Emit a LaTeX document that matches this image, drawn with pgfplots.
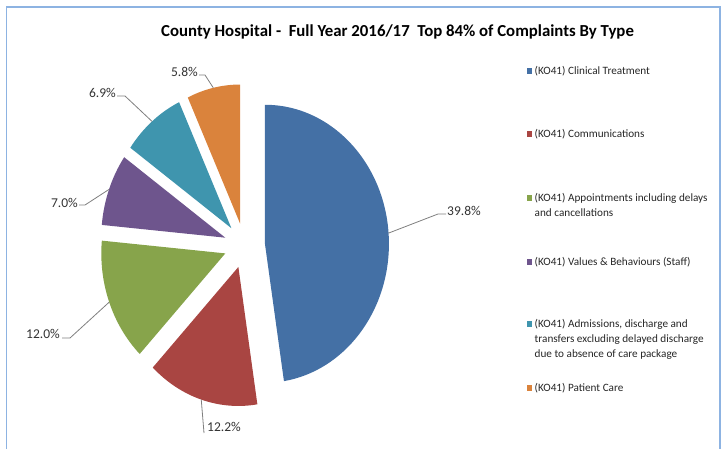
\documentclass[border=0pt]{standalone}
\usepackage{pgfplots}
\pgfplotsset{compat=1.18}
\usepackage{pgfplotstable}
\usepackage{fontspec}
\setmainfont{Carlito}

\definecolor{cBlue}{HTML}{4470A5}
\definecolor{cRed}{HTML}{A94542}
\definecolor{cGreen}{HTML}{87A44B}
\definecolor{cPurple}{HTML}{6E558D}
\definecolor{cTeal}{HTML}{3F95AE}
\definecolor{cOrange}{HTML}{DA833C}
\definecolor{cFrame}{HTML}{8DB3E2}
\definecolor{cLead}{HTML}{7F7F7F}

\pgfplotstableread{
type value
Clinical 39.8
Communications 12.2
Appointments 12.0
Values 7.0
Admissions 6.9
PatientCare 5.8
}\piedata

\pgfplotstablegetelem{0}{value}\of\piedata\let\vA\pgfplotsretval
\pgfplotstablegetelem{1}{value}\of\piedata\let\vB\pgfplotsretval
\pgfplotstablegetelem{2}{value}\of\piedata\let\vC\pgfplotsretval
\pgfplotstablegetelem{3}{value}\of\piedata\let\vD\pgfplotsretval
\pgfplotstablegetelem{4}{value}\of\piedata\let\vE\pgfplotsretval
\pgfplotstablegetelem{5}{value}\of\piedata\let\vF\pgfplotsretval
\pgfmathsetmacro\tot{\vA+\vB+\vC+\vD+\vE+\vF}
\pgfmathsetmacro\aA{90}
\pgfmathsetmacro\aB{\aA-360*\vA/\tot}
\pgfmathsetmacro\aC{\aB-360*\vB/\tot}
\pgfmathsetmacro\aD{\aC-360*\vC/\tot}
\pgfmathsetmacro\aE{\aD-360*\vD/\tot}
\pgfmathsetmacro\aF{\aE-360*\vE/\tot}
\pgfmathsetmacro\aG{\aF-360*\vF/\tot}
\pgfmathsetmacro\mA{(\aA+\aB)/2}
\pgfmathsetmacro\mB{(\aB+\aC)/2}
\pgfmathsetmacro\mC{(\aC+\aD)/2}
\pgfmathsetmacro\mD{(\aD+\aE)/2}
\pgfmathsetmacro\mE{(\aE+\aF)/2}
\pgfmathsetmacro\mF{(\aF+\aG)/2}

% geometry in pixels
\def\cx{244.5}\def\cy{245.5}
\def\exx{20.5}\def\exy{22.5}
\def\rx{124}\def\ry{139}

\newcommand\pieWedge[3]{%
  \fill[#3] (axis cs:{\cx+\exx*cos((#1+#2)/2)+\rx*cos(#1)},{\cy-\exy*sin((#1+#2)/2)-\ry*sin(#1)})
     arc[start angle=#1, end angle=#2, x radius=\rx pt, y radius=\ry pt]
     -- (axis cs:{\cx+\exx*cos((#1+#2)/2)},{\cy-\exy*sin((#1+#2)/2)}) -- cycle;}
\newcommand\leader[3]{%
  \draw[cLead, line width=0.8pt] (axis cs:{\cx+(\exx+\rx)*cos(#1)},{\cy-(\exy+\ry)*sin(#1)})
     -- (axis cs:#2) -- (axis cs:#3);}
% legend key: color, baseline y
\newcommand\legkey[2]{%
  \fill[#1] (axis cs:526.8,{#2-6.3}) rectangle (axis cs:532.3,{#2-0.7});}
\newcommand\legline[2]{%
  \node[anchor=base west, inner sep=0pt, font=\fontsize{11.2}{15}\selectfont, text=black!85] at (axis cs:534.5,#1) {#2};}

\begin{document}
\begin{tikzpicture}
\begin{axis}[
  x=1pt, y=1pt, xmin=0, xmax=723, ymin=0, ymax=449, y dir=reverse,
  scale only axis, hide axis, clip=false,
]
\path (axis cs:0,0) rectangle (axis cs:723,449);
% frame
\draw[cFrame, line width=1.5pt] (axis cs:6.5,449) -- (axis cs:6.5,7) -- (axis cs:720,7) -- (axis cs:720,449);
% title
\node[font=\fontsize{16.8}{18}\selectfont\bfseries] at (axis cs:397.5,31.5) {County Hospital -\ \ Full Year 2016/17\ \ Top 84\% of Complaints By Type};
% wedges
\pieWedge{\aA}{\aB}{cBlue}
\pieWedge{\aB}{\aC}{cRed}
\pieWedge{\aC}{\aD}{cGreen}
\pieWedge{\aD}{\aE}{cPurple}
\pieWedge{\aE}{\aF}{cTeal}
\pieWedge{\aF}{\aG}{cOrange}
% leaders and labels
\leader{\mA}{438,214}{446,214}
\leader{\mB}{204,433}{204,433}
\leader{\mC}{70,338}{62,338}
\leader{\mD}{85,205}{79,205}
\leader{\mE}{125,96}{117,96}
\leader{\mF}{205,75}{199,75}
\begin{scope}[every node/.style={font=\fontsize{13.5}{15}\selectfont, text=black!80, inner sep=0pt}]
\node[anchor=west] at (axis cs:447,211) {39.8\%};
\node[anchor=west] at (axis cs:207,427) {12.2\%};
\node[anchor=east] at (axis cs:60,334) {12.0\%};
\node[anchor=east] at (axis cs:78,203) {7.0\%};
\node[anchor=east] at (axis cs:116,93) {6.9\%};
\node[anchor=east] at (axis cs:198,72) {5.8\%};
\end{scope}
% legend
\legkey{cBlue}{74.6}
\legline{74.6}{(KO41) Clinical Treatment}
\legkey{cRed}{137.6}
\legline{137.6}{(KO41) Communications}
\legkey{cGreen}{201.6}
\legline{201.6}{(KO41) Appointments including delays}
\legline{216.1}{and cancellations}
\legkey{cPurple}{265.6}
\legline{265.6}{(KO41) Values \& Behaviours (Staff)}
\legkey{cTeal}{327.6}
\legline{327.6}{(KO41) Admissions, discharge and}
\legline{342.6}{transfers excluding delayed discharge}
\legline{357.6}{due to absence of care package}
\legkey{cOrange}{391.6}
\legline{391.6}{(KO41) Patient Care}
\end{axis}
\end{tikzpicture}
\end{document}
